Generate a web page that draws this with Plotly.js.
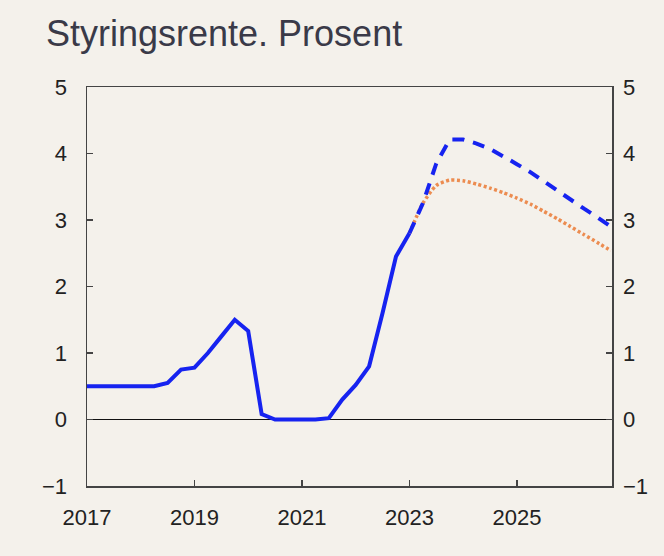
<!DOCTYPE html>
<html>
<head>
<meta charset="utf-8">
<script src="https://cdn.plot.ly/plotly-3.0.1.min.js"></script>
<style>
  html, body { margin: 0; padding: 0; background: #f4f1eb; }
  #chart { width: 664px; height: 556px; }
</style>
</head>
<body>
<div id="chart"></div>
<script>
// Quarterly time positions (year + quarter offset)
const histX = [2017, 2017.25, 2017.5, 2017.75,
               2018, 2018.25, 2018.5, 2018.75,
               2019, 2019.25, 2019.5, 2019.75,
               2020, 2020.25, 2020.5, 2020.75,
               2021, 2021.25, 2021.5, 2021.75,
               2022, 2022.25, 2022.5, 2022.75,
               2023];
const histY = [0.5, 0.5, 0.5, 0.5,
               0.5, 0.5, 0.55, 0.75,
               0.78, 1.0, 1.25, 1.5,
               1.33, 0.08, 0.0, 0.0,
               0.0, 0.0, 0.02, 0.3,
               0.52, 0.8, 1.6, 2.45,
               2.8];

const fcX = [2023, 2023.25, 2023.5, 2023.75,
             2024, 2024.25, 2024.5, 2024.75,
             2025, 2025.25, 2025.5, 2025.75,
             2026, 2026.25, 2026.5, 2026.75];
const newForecast = [2.8, 3.25, 3.85, 4.21,
                     4.21, 4.15, 4.07, 3.96,
                     3.84, 3.72, 3.58, 3.45,
                     3.31, 3.17, 3.04, 2.9];
const oldForecast = [2.8, 3.25, 3.52, 3.6,
                     3.59, 3.54, 3.48, 3.41,
                     3.33, 3.24, 3.13, 3.02,
                     2.9, 2.78, 2.66, 2.54];

const xTickVals = [2017, 2019, 2021, 2023, 2025];
const xTickText = ['2017', '2019', '2021', '2023', '2025'];
const yTickVals = [-1, 0, 1, 2, 3, 4, 5];

const blue = 'rgb(22,35,240)';
const orange = 'rgb(236,140,80)';
const bg = '#f4f1eb';
const axisCol = '#444444';

const traces = [
  { x: fcX, y: oldForecast, type: 'scatter', mode: 'lines',
    line: { color: orange, width: 3.5, dash: '3px,2.5px', shape: 'spline', smoothing: 0.6 },
    hoverinfo: 'skip', showlegend: false },
  { x: fcX, y: newForecast, type: 'scatter', mode: 'lines',
    line: { color: blue, width: 4, dash: '12px,9px' },
    hoverinfo: 'skip', showlegend: false },
  { x: histX, y: histY, type: 'scatter', mode: 'lines',
    line: { color: blue, width: 4 },
    hoverinfo: 'skip', showlegend: false },
  { x: histX, y: histY, type: 'scatter', mode: 'lines', yaxis: 'y2',
    line: { width: 0 }, opacity: 0, hoverinfo: 'skip', showlegend: false }
];

const tickFont = { family: 'Liberation Sans, Arial, sans-serif', size: 22, color: '#222222' };

const layout = {
  width: 664, height: 556,
  paper_bgcolor: bg, plot_bgcolor: bg,
  margin: { l: 87, r: 52, t: 87, b: 70, pad: 0 },
  title: {
    text: 'Styringsrente. Prosent',
    font: { family: 'Liberation Sans, Arial, sans-serif', size: 36, color: '#3a3a48' },
    x: 46 / 664, xanchor: 'left', xref: 'container',
    y: 1 - 33 / 556, yanchor: 'middle', yref: 'container'
  },
  showlegend: false,
  xaxis: {
    range: [2017, 2026.77],
    tickvals: xTickVals, ticktext: xTickText,
    ticks: 'inside', ticklen: 6, tickwidth: 1.5, tickcolor: axisCol,
    showline: true, linecolor: axisCol, linewidth: 1.5, mirror: true,
    showgrid: false, zeroline: false,
    tickfont: tickFont, ticklabelstandoff: 11
  },
  yaxis: {
    range: [-1, 5], tickvals: yTickVals,
    ticks: 'inside', ticklen: 6, tickwidth: 1.5, tickcolor: axisCol,
    showline: true, linecolor: axisCol, linewidth: 1.5, mirror: true,
    showgrid: false,
    zeroline: true, zerolinecolor: '#111111', zerolinewidth: 1.5,
    tickfont: tickFont, ticklabelstandoff: 14
  },
  yaxis2: {
    range: [-1, 5], tickvals: yTickVals,
    overlaying: 'y', side: 'right',
    ticks: 'inside', ticklen: 6, tickwidth: 1.5, tickcolor: axisCol,
    showline: false, showgrid: false, zeroline: false,
    tickfont: tickFont, ticklabelstandoff: 10
  }
};

Plotly.newPlot('chart', traces, layout, { displayModeBar: false, staticPlot: true });
</script>
</body>
</html>
